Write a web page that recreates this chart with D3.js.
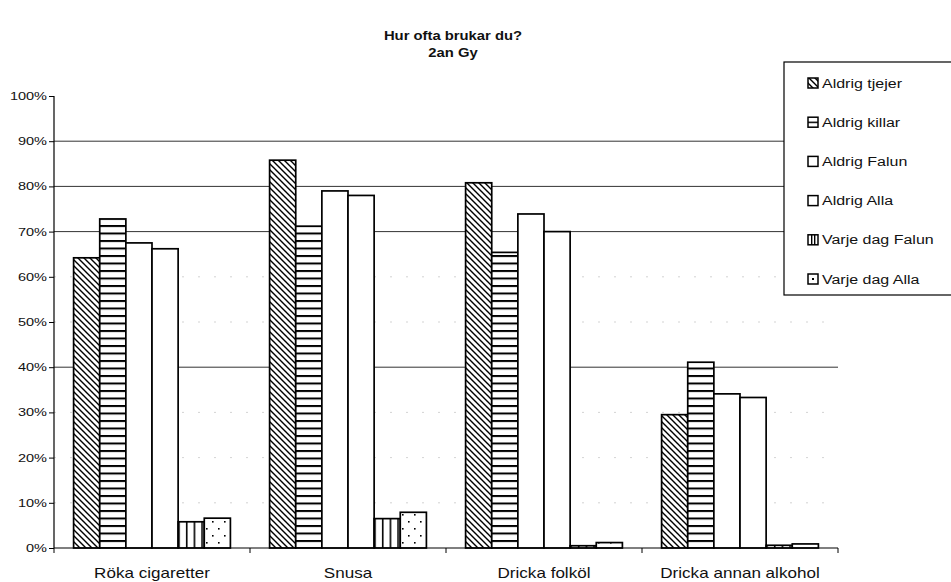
<!DOCTYPE html>
<html>
<head>
<meta charset="utf-8">
<script src="https://cdn.jsdelivr.net/npm/d3@7"></script>
<style>
  html, body { margin: 0; padding: 0; background: #fff; }
  svg { display: block; font-family: "Liberation Sans", Arial, sans-serif; }
</style>
</head>
<body>
<svg id="chart" width="951" height="582"></svg>
<script>
// Categories along the x axis
const categories = ["Röka cigaretter", "Snusa", "Dricka folköl", "Dricka annan alkohol"];
// Series names, in drawing and legend order
const seriesNames = ["Aldrig tjejer", "Aldrig killar", "Aldrig Falun", "Aldrig Alla", "Varje dag Falun", "Varje dag Alla"];
// Percent values per series, one per category
const aldrigTjejer  = [64.2, 85.8, 80.8, 29.5];
const aldrigKillar  = [72.8, 71.2, 65.4, 41.1];
const aldrigFalun   = [67.5, 79.0, 73.9, 34.1];
const aldrigAlla    = [66.2, 78.0, 70.0, 33.3];
const varjeDagFalun = [5.8, 6.5, 0.5, 0.6];
const varjeDagAlla  = [6.6, 7.9, 1.2, 0.9];
const yTicks = [0, 10, 20, 30, 40, 50, 60, 70, 80, 90, 100];
const solidGrid = [40, 70, 80, 90];

const seriesValues = [aldrigTjejer, aldrigKillar, aldrigFalun, aldrigAlla, varjeDagFalun, varjeDagAlla];
const fills = ["url(#pDiag)", "url(#pHoriz)", "#fff", "#fff", "url(#pVert)", "url(#pDots)"];
const legendFills = ["url(#pDiag)", "url(#lHoriz)", "#fff", "#fff", "url(#lVert)", "url(#lDot)"];

const svg = d3.select("#chart");
const m = { left: 54, right: 838, top: 96, bottom: 548 };
const stretch = 1.28; // horizontal widening of the typeface

// Fill patterns
const defs = svg.append("defs");
const pd = defs.append("pattern").attr("id", "pDiag").attr("patternUnits", "userSpaceOnUse")
  .attr("width", 6).attr("height", 6);
pd.append("rect").attr("width", 6).attr("height", 6).attr("fill", "#fff");
pd.append("path").attr("d", "M-1,-1 L7,7 M-1,5 L1,7 M5,-1 L7,1")
  .attr("stroke", "#000").attr("stroke-width", 1.4);

const ph = defs.append("pattern").attr("id", "pHoriz").attr("patternUnits", "userSpaceOnUse")
  .attr("width", 8).attr("height", 7.5);
ph.append("rect").attr("width", 8).attr("height", 7.5).attr("fill", "#fff");
ph.append("rect").attr("y", 0).attr("width", 8).attr("height", 2).attr("fill", "#000");

const pv = defs.append("pattern").attr("id", "pVert").attr("patternUnits", "userSpaceOnUse")
  .attr("width", 7.7).attr("height", 8).attr("x", 1);
pv.append("rect").attr("width", 7.7).attr("height", 8).attr("fill", "#fff");
pv.append("rect").attr("x", 0).attr("width", 1.6).attr("height", 8).attr("fill", "#000");

const pdots = defs.append("pattern").attr("id", "pDots").attr("patternUnits", "userSpaceOnUse")
  .attr("width", 12).attr("height", 14);
pdots.append("rect").attr("width", 12).attr("height", 14).attr("fill", "#fff");
pdots.append("rect").attr("x", 2).attr("y", 3).attr("width", 1.6).attr("height", 1.6).attr("fill", "#000");
pdots.append("rect").attr("x", 8).attr("y", 10).attr("width", 1.6).attr("height", 1.6).attr("fill", "#000");

// Swatch-sized patterns for the legend keys
const lh = defs.append("pattern").attr("id", "lHoriz").attr("patternContentUnits", "objectBoundingBox")
  .attr("width", 1).attr("height", 1);
lh.append("rect").attr("width", 1).attr("height", 1).attr("fill", "#fff");
lh.append("rect").attr("y", 0.45).attr("width", 1).attr("height", 0.15).attr("fill", "#000");
const lv = defs.append("pattern").attr("id", "lVert").attr("patternContentUnits", "objectBoundingBox")
  .attr("width", 1).attr("height", 1);
lv.append("rect").attr("width", 1).attr("height", 1).attr("fill", "#fff");
lv.append("rect").attr("x", 0.3).attr("width", 0.14).attr("height", 1).attr("fill", "#000");
lv.append("rect").attr("x", 0.6).attr("width", 0.14).attr("height", 1).attr("fill", "#000");
const ldt = defs.append("pattern").attr("id", "lDot").attr("patternContentUnits", "objectBoundingBox")
  .attr("width", 1).attr("height", 1);
ldt.append("rect").attr("width", 1).attr("height", 1).attr("fill", "#fff");
ldt.append("rect").attr("x", 0.4).attr("y", 0.4).attr("width", 0.2).attr("height", 0.2).attr("fill", "#000");

// Scales
const x0 = d3.scaleBand().domain(categories).range([m.left, m.right]);
const x1 = d3.scaleBand().domain(seriesNames)
  .range([x0.bandwidth() * 0.1, x0.bandwidth() * 0.9]);
const y = d3.scaleLinear().domain([0, 100]).range([m.bottom, m.top]);

// Title
const titleLines = ["Hur ofta brukar du?", "2an Gy"];
svg.append("g").selectAll("text").data(titleLines).join("text")
  .attr("transform", (d, i) => `translate(453,${40 + i * 17}) scale(1.14,1)`)
  .attr("text-anchor", "middle").attr("font-size", 13).attr("font-weight", "bold")
  .attr("fill", "#111").text(d => d);

// Gridlines
svg.append("g").selectAll("line").data(yTicks.filter(t => t > 0 && t < 100)).join("line")
  .attr("x1", m.left).attr("x2", m.right)
  .attr("y1", d => y(d)).attr("y2", d => y(d))
  .attr("stroke", d => solidGrid.includes(d) ? "#333" : "#c8c8c8")
  .attr("stroke-width", d => solidGrid.includes(d) ? 1 : 0.8)
  .attr("stroke-dasharray", d => solidGrid.includes(d) ? null : "2,14");

// Bars
const groups = svg.append("g").selectAll("g").data(categories).join("g")
  .attr("transform", d => `translate(${x0(d)},0)`);
groups.selectAll("rect")
  .data((c, ci) => seriesNames.map((s, si) => ({ s, si, v: seriesValues[si][ci] })))
  .join("rect")
  .attr("x", d => x1(d.s))
  .attr("y", d => y(d.v))
  .attr("width", x1.bandwidth())
  .attr("height", d => y(0) - y(d.v))
  .attr("fill", d => fills[d.si])
  .attr("stroke", "#000").attr("stroke-width", 1.7);

// Y axis
const yAxis = d3.axisLeft(y).tickValues(yTicks).tickFormat(d => d + "%").tickSize(5).tickPadding(4);
const gy = svg.append("g").attr("transform", `translate(${m.left},0)`).call(yAxis);
gy.select(".domain").attr("stroke", "#000").attr("stroke-width", 1.2).attr("d", `M0,${m.top}V${m.bottom}`);
gy.selectAll(".tick line").attr("stroke", "#000");
gy.selectAll(".tick text").attr("font-size", 11).attr("fill", "#111")
  .attr("font-family", "'Liberation Sans', Arial, sans-serif")
  .attr("x", -7 / 1.32).attr("transform", "scale(1.32,1)");

// X axis with ticks at category boundaries
const gx = svg.append("g").attr("transform", `translate(0,${m.bottom})`);
gx.append("line").attr("x1", m.left).attr("x2", m.right).attr("stroke", "#000").attr("stroke-width", 1.2);
const bounds = categories.map(c => x0(c)).concat([m.right]);
gx.selectAll("line.tk").data(bounds).join("line").attr("class", "tk")
  .attr("x1", d => d).attr("x2", d => d).attr("y1", 0).attr("y2", 5).attr("stroke", "#000");
gx.selectAll("text").data(categories).join("text")
  .attr("transform", d => `translate(${x0(d) + x0.bandwidth() / 2},30) scale(1.22,1)`)
  .attr("text-anchor", "middle").attr("font-size", 14).attr("fill", "#111").text(d => d);

// Legend
const lg = svg.append("g");
lg.append("rect").attr("x", 784).attr("y", 62).attr("width", 170).attr("height", 233)
  .attr("fill", "#fff").attr("stroke", "#000").attr("stroke-width", 1.2);
const items = lg.selectAll("g.item").data(seriesNames).join("g").attr("class", "item")
  .attr("transform", (d, i) => `translate(808,${83 + i * 39.2})`);
items.append("rect").attr("x", 0).attr("y", -5).attr("width", 10).attr("height", 10)
  .attr("fill", (d, i) => legendFills[i]).attr("stroke", "#000").attr("stroke-width", 1.5);
items.append("text").attr("transform", `translate(14,4.5) scale(${stretch},1)`)
  .attr("font-size", 12.5).attr("fill", "#111").text(d => d);
</script>
</body>
</html>
